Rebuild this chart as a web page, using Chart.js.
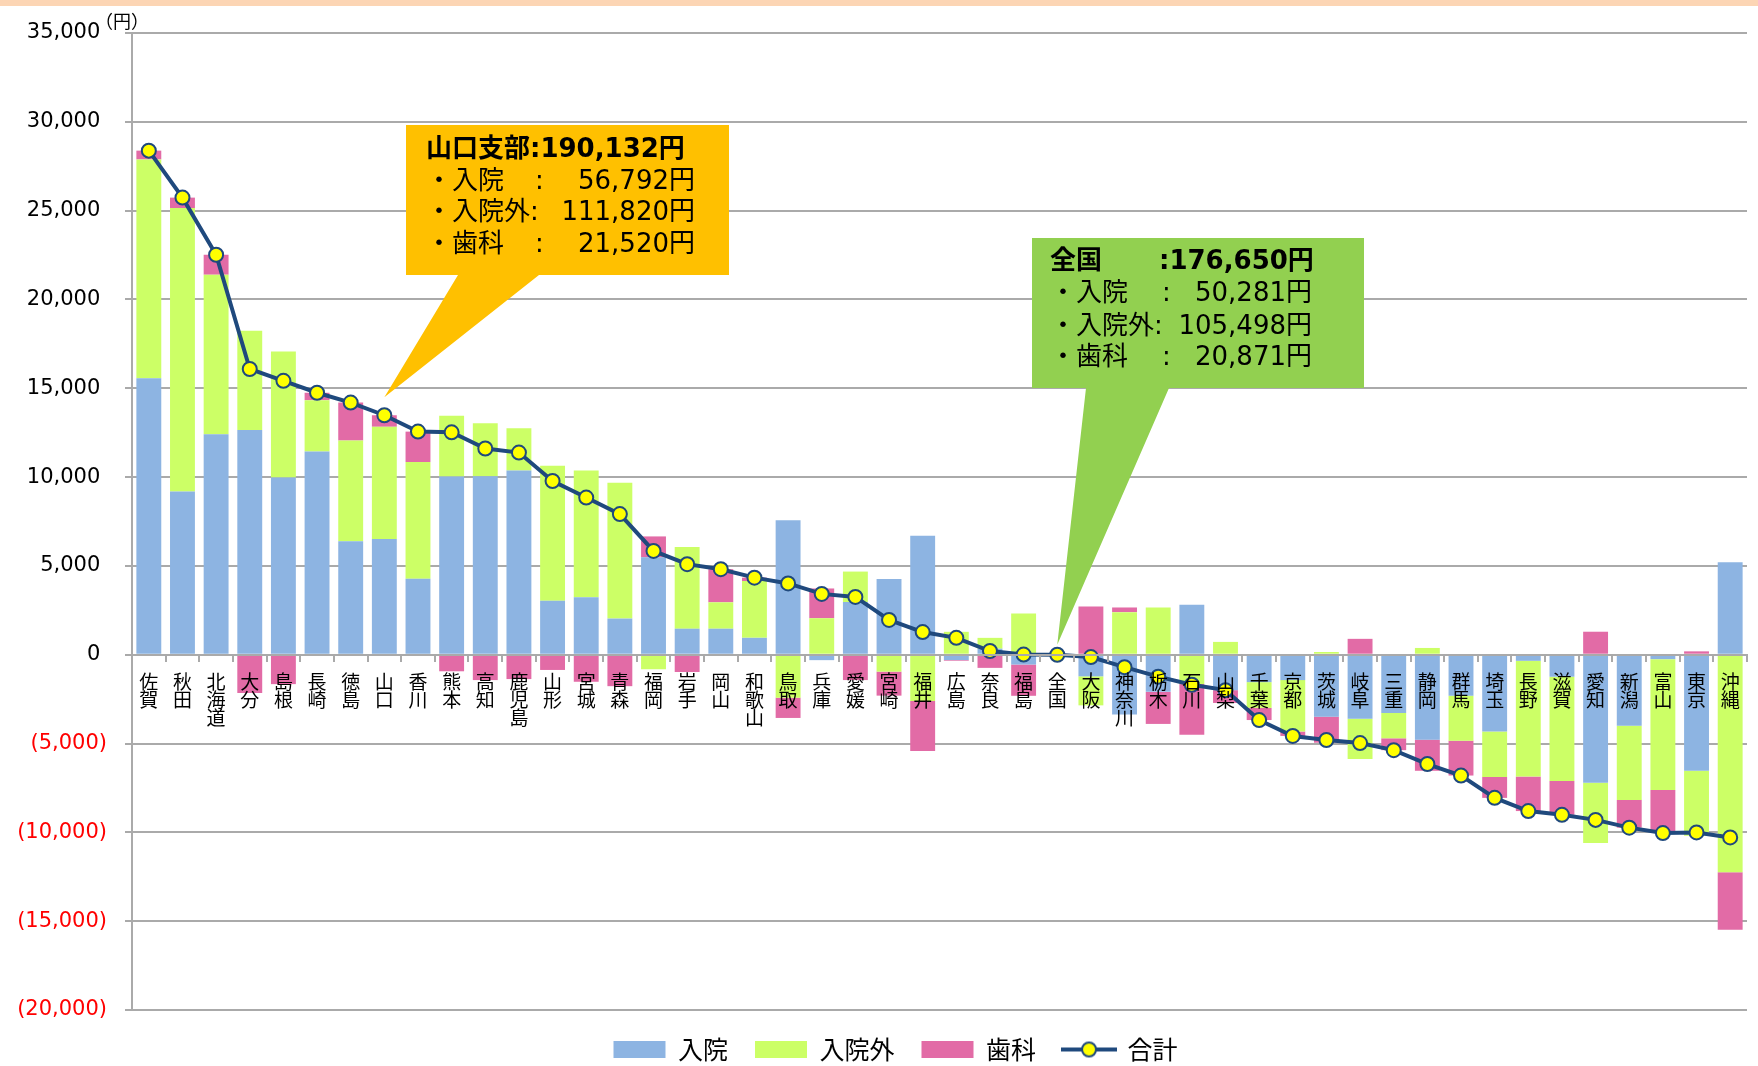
<!DOCTYPE html>
<html lang="ja">
<head>
<meta charset="UTF-8">
<title>都道府県別 一人当たり医療費の全国との差</title>
<script src="https://cdn.jsdelivr.net/npm/chart.js"></script>
<style>
  html, body { margin: 0; padding: 0; background: #fff; }
  #wrap { position: relative; width: 1758px; height: 1066px; }
  #topband { position: absolute; left: 0; top: 0; width: 1758px; height: 6px; background: #FCD5B4; }
</style>
</head>
<body>
<div id="wrap">
  <canvas id="chart"></canvas>
  <div id="topband"></div>
</div>
<script>
// 都道府県（全国との差の大きい順）
const categories = ['佐賀','秋田','北海道','大分','島根','長崎','徳島','山口','香川','熊本','高知','鹿児島',
  '山形','宮城','青森','福岡','岩手','岡山','和歌山','鳥取','兵庫','愛媛','宮崎','福井','広島','奈良','福島',
  '全国','大阪','神奈川','栃木','石川','山梨','千葉','京都','茨城','岐阜','三重','静岡','群馬','埼玉','長野',
  '滋賀','愛知','新潟','富山','東京','沖縄'];

// 全国との差（円）
const inpatient = [15566, 9191, 12408, 12655, 9972, 11437, 6394, 6511, 4282, 10029, 10048, 10371,
  3045, 3235, 2036, 5481, 1465, 1465, 952, 7574, -305, 2969, 4263, 6699, -300, 342, -552,
  0, -1216, -3360, -2090, 2812, -1995, -1543, -1429, -3486, -3600, -3277, -4782, -2305, -4324, -343,
  -1238, -7201, -4000, -248, -6534, 5201];
const outpatient = [12317, 15952, 8986, 5580, 7102, 2893, 5671, 6322, 6565, 3425, 2988, 2379,
  7593, 7136, 7650, -818, 4606, 1485, 3197, -2417, 2055, 1712, -952, -2607, 1290, 608, 2322,
  0, -1634, 2394, 2660, -1653, 722, -1448, -2895, 152, -2267, -1428, 381, -2534, -2553, -6515,
  -5868, -3391, -4172, -7372, -3658, -12249];
const dental = [495, 590, 1123, -2150, -1655, 418, 2131, 649, 1713, -932, -1428, -1370,
  -857, -1522, -1770, 1179, -971, 1865, 190, -1142, 1675, -1427, -1351, -2817, -38, -740, -1760,
  0, 2717, 266, -1805, -2850, -720, -686, -248, -1467, 894, -667, -1752, -1962, -1181, -1943,
  -1905, 1295, -1563, -2419, 190, -3239];
const total = [28378, 25733, 22517, 16085, 15419, 14748, 14196, 13482, 12560, 12522, 11608, 11380,
  9781, 8849, 7916, 5842, 5100, 4815, 4339, 4015, 3425, 3254, 1960, 1275, 952, 210, 10,
  0, -133, -700, -1235, -1691, -1993, -3677, -4572, -4801, -4973, -5372, -6153, -6801, -8058, -8801,
  -9011, -9297, -9735, -10039, -10002, -10287];

const seriesNames = ['入院', '入院外', '歯科', '合計'];
const yTicks = { min: -20000, max: 35000, step: 5000 };

const NAVY = '#1F497D';
const GRID = '#AAAAAA';
const JP = '"Noto Sans CJK JP"';
const NUM = '"DejaVu Sans", "Noto Sans CJK JP"';

// legend swatch for the line series
const lineSwatch = document.createElement('canvas');
lineSwatch.width = 56;
lineSwatch.height = 18;
(function () {
  const c = lineSwatch.getContext('2d');
  c.strokeStyle = NAVY;
  c.lineWidth = 4;
  c.beginPath(); c.moveTo(0, 9); c.lineTo(56, 9); c.stroke();
  c.beginPath(); c.arc(28, 9, 7, 0, Math.PI * 2);
  c.fillStyle = '#FFFF00'; c.fill();
  c.lineWidth = 2; c.stroke();
})();

function drawCallout(ctx, box, base, tip, fill) {
  ctx.beginPath();
  ctx.moveTo(box[0], box[1]);
  ctx.lineTo(box[2], box[1]);
  ctx.lineTo(box[2], box[3]);
  ctx.lineTo(base[1], box[3]);
  ctx.lineTo(tip[0], tip[1]);
  ctx.lineTo(base[0], box[3]);
  ctx.lineTo(box[0], box[3]);
  ctx.closePath();
  ctx.fillStyle = fill;
  ctx.fill();
}

function text(ctx, s, x, y, align, bold) {
  ctx.font = (bold ? 'bold ' : '') + '26px ' + NUM;
  ctx.textAlign = align;
  ctx.fillText(s, x, y);
}

const calloutPlugin = {
  id: 'callouts',
  afterLayout(chart) {
    // the legend sits a little right of centre in the original
    chart.legend.left += 22;
    chart.legend.right += 22;
  },
  afterDraw(chart) {
    const ctx = chart.ctx;
    const xs = chart.scales.x, ys = chart.scales.y;
    ctx.save();
    ctx.textBaseline = 'middle';
    ctx.fillStyle = '#000';
    ctx.font = '18px ' + JP;
    ctx.textAlign = 'left';
    ctx.fillText('（円）', 95, 21);

    // 山口
    const iY = categories.indexOf('山口');
    drawCallout(ctx, [406, 125, 729, 275], [458, 539],
      [xs.getPixelForValue(iY), ys.getPixelForValue(total[iY]) - 18], '#FFC000');
    ctx.fillStyle = '#000';
    text(ctx, '山口支部:190,132円', 426, 150, 'left', true);
    text(ctx, '・入院', 426, 182, 'left');
    text(ctx, ':', 535, 182, 'left');
    text(ctx, '56,792円', 695, 182, 'right');
    text(ctx, '・入院外:', 426, 213, 'left');
    text(ctx, '111,820円', 695, 213, 'right');
    text(ctx, '・歯科', 426, 245, 'left');
    text(ctx, ':', 535, 245, 'left');
    text(ctx, '21,520円', 695, 245, 'right');

    // 全国
    const iN = categories.indexOf('全国');
    drawCallout(ctx, [1032, 238, 1364, 388], [1086, 1169],
      [xs.getPixelForValue(iN), ys.getPixelForValue(0) - 10], '#92D050');
    ctx.fillStyle = '#000';
    text(ctx, '全国', 1050, 262, 'left', true);
    text(ctx, ':176,650円', 1159, 262, 'left', true);
    text(ctx, '・入院', 1050, 294, 'left');
    text(ctx, ':', 1162, 294, 'left');
    text(ctx, '50,281円', 1312, 294, 'right');
    text(ctx, '・入院外:', 1050, 327, 'left');
    text(ctx, '105,498円', 1312, 327, 'right');
    text(ctx, '・歯科', 1050, 358, 'left');
    text(ctx, ':', 1162, 358, 'left');
    text(ctx, '20,871円', 1312, 358, 'right');
    ctx.restore();
  }
};

const fmt = v => Math.abs(v).toLocaleString('en-US');

new Chart(document.getElementById('chart'), {
  type: 'bar',
  data: {
    labels: categories.map(s => s.split('')),
    datasets: [
      { label: seriesNames[0], data: inpatient, backgroundColor: '#8DB4E2', stack: 's', order: 1 },
      { label: seriesNames[1], data: outpatient, backgroundColor: '#CCFF66', stack: 's', order: 1 },
      { label: seriesNames[2], data: dental, backgroundColor: '#E26BA6', stack: 's', order: 1 },
      {
        type: 'line', label: seriesNames[3], data: total, stack: 'line', order: 0,
        borderColor: NAVY, borderWidth: 4, tension: 0,
        pointRadius: 7, pointBorderWidth: 2,
        pointBackgroundColor: '#FFFF00', pointBorderColor: NAVY,
        backgroundColor: '#FFFF00'
      }
    ]
  },
  options: {
    responsive: true,
    maintainAspectRatio: false,
    animation: false,
    events: [],
    datasets: { bar: { categoryPercentage: 1, barPercentage: 0.74, borderWidth: 0 } },
    layout: { padding: { left: 0, right: 11, top: 33, bottom: -6 } },
    scales: {
      x: {
        stacked: true,
        position: { y: 0 },
        afterFit(scale) { scale.height = 11; },
        grid: { offset: true, drawOnChartArea: false, drawTicks: true, tickLength: 6, color: GRID, lineWidth: 2, z: 1 },
        border: { display: true, color: GRID, width: 2, z: 1 },
        ticks: {
          z: 1,
          autoSkip: false, maxRotation: 0, minRotation: 0, padding: 12,
          color: '#000', font: { family: JP, size: 19, lineHeight: 0.95 }
        }
      },
      y: {
        stacked: true,
        min: yTicks.min, max: yTicks.max,
        afterFit(scale) { scale.width = 132; },
        grid: { color: GRID, lineWidth: 2, tickLength: 7 },
        border: { color: GRID, width: 2 },
        ticks: {
          stepSize: yTicks.step, padding: 18,
          font: { family: NUM, size: 21 },
          color: c => c.tick.value < 0 ? '#FF0000' : '#000000',
          callback: v => v < 0 ? '(' + fmt(v) + ')' : fmt(v) + ' '
        }
      }
    },
    plugins: {
      tooltip: { enabled: false },
      legend: {
        position: 'bottom',
        labels: {
          usePointStyle: true, pointStyleWidth: 52, boxHeight: 17, padding: 27,
          color: '#000', font: { family: JP, size: 25 },
          sort: (a, b) => a.datasetIndex - b.datasetIndex,
          generateLabels(chart) {
            const items = Chart.defaults.plugins.legend.labels.generateLabels(chart);
            items.forEach(it => {
              it.pointStyle = it.datasetIndex < 3 ? 'rect' : lineSwatch;
              it.lineWidth = 0;
            });
            return items;
          }
        }
      }
    }
  },
  plugins: [calloutPlugin]
});
</script>
</body>
</html>
